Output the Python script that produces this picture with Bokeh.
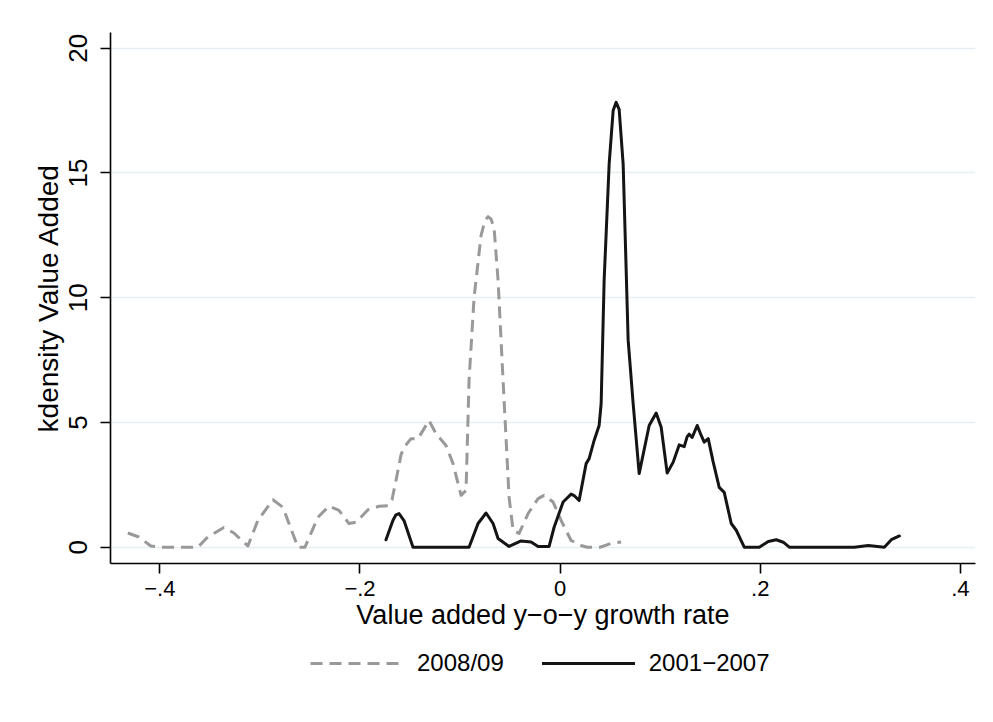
from bokeh.plotting import figure
from bokeh.models import Range1d, FixedTicker, Legend, LegendItem
from bokeh.layouts import column
from bokeh.embed import file_html
from bokeh.resources import INLINE

# ---- data ----
crisis_x = [-0.432, -0.421, -0.409, -0.400, -0.362, -0.352, -0.336, -0.326, -0.312,
            -0.302, -0.287, -0.277, -0.262, -0.255, -0.242, -0.231, -0.221, -0.211,
            -0.204, -0.192, -0.181, -0.172, -0.168, -0.164, -0.159, -0.156, -0.149,
            -0.142, -0.131, -0.124, -0.114, -0.107, -0.099, -0.094, -0.091, -0.086,
            -0.079, -0.075, -0.072, -0.069, -0.066, -0.062, -0.057, -0.051, -0.047,
            -0.041, -0.032, -0.022, -0.016, -0.007, 0.001, 0.011, 0.021, 0.027,
            0.040, 0.051, 0.061]
crisis_y = [0.57, 0.41, 0.05, 0.0, 0.0, 0.41, 0.79, 0.57, 0.05,
            1.08, 1.90, 1.60, 0.0, 0.0, 1.20, 1.65, 1.48, 0.95,
            1.00, 1.50, 1.64, 1.66, 1.90, 2.68, 3.70, 4.00, 4.35,
            4.35, 5.08, 4.55, 4.08, 3.35, 2.08, 2.28, 6.68, 10.0,
            12.5, 13.1, 13.25, 13.15, 12.8, 10.7, 6.68, 2.0, 0.68,
            0.55, 1.35, 1.95, 2.08, 1.81, 1.07, 0.27, 0.07, 0.0,
            0.0, 0.15, 0.21]

boom_x = [-0.174, -0.167, -0.164, -0.161, -0.156, -0.147, -0.091, -0.082, -0.074,
          -0.067, -0.062, -0.051, -0.039, -0.029, -0.022, -0.011, -0.006, 0.003,
          0.011, 0.014, 0.019, 0.026, 0.029, 0.034, 0.039, 0.041, 0.044,
          0.049, 0.053, 0.056, 0.059, 0.063, 0.068, 0.073, 0.079, 0.089,
          0.096, 0.101, 0.107, 0.113, 0.119, 0.124, 0.127, 0.129, 0.132,
          0.137, 0.141, 0.144, 0.148, 0.153, 0.159, 0.164, 0.171, 0.176,
          0.184, 0.199, 0.208, 0.216, 0.223, 0.229, 0.294, 0.308, 0.324,
          0.331, 0.339]
boom_y = [0.30, 1.08, 1.30, 1.35, 1.07, 0.0, 0.0, 0.95, 1.37,
          0.95, 0.35, 0.03, 0.25, 0.21, 0.03, 0.03, 0.80, 1.81,
          2.13, 2.07, 1.87, 3.35, 3.55, 4.28, 4.88, 5.75, 10.7,
          15.35, 17.5, 17.83, 17.55, 15.35, 8.3, 5.75, 2.95, 4.88,
          5.38, 4.81, 2.97, 3.41, 4.10, 4.03, 4.43, 4.53, 4.40,
          4.88, 4.48, 4.21, 4.35, 3.41, 2.40, 2.20, 0.95, 0.68,
          0.0, 0.0, 0.23, 0.30, 0.20, 0.0, 0.0, 0.07, 0.0,
          0.30, 0.45]

x_ticks = [-0.4, -0.2, 0.0, 0.2, 0.4]
x_tick_labels = ["\u2212.4", "\u2212.2", "0", ".2", ".4"]
y_ticks = [0, 5, 10, 15, 20]
y_tick_labels = ["0", "5", "10", "15", "20"]
series_labels = ["2008/09", "2001\u22122007"]

FONT = "Liberation Sans"
CRISIS_STYLE = dict(line_color="#999999", line_width=3, line_dash="12 7", line_join="round")
BOOM_STYLE = dict(line_color="#141414", line_width=3, line_join="round", line_cap="round")

p = figure(frame_width=865, frame_height=531, output_backend="svg", toolbar_location=None,
           x_range=Range1d(-0.4493, 0.4151), y_range=Range1d(-0.653, 20.63),
           min_border_left=110, min_border_right=8, min_border_top=32,
           min_border_bottom=80)
p.outline_line_color = None
p.background_fill_color = "white"
p.border_fill_color = "white"

# grid
p.xgrid.visible = False
p.ygrid.ticker = FixedTicker(ticks=y_ticks)
p.ygrid.grid_line_color = "#e6eef1"
p.ygrid.grid_line_width = 1.7

# x axis
p.xaxis.ticker = FixedTicker(ticks=x_ticks)
p.xaxis.major_label_overrides = dict(zip(x_ticks, x_tick_labels))
p.xaxis.axis_label = "Value added y\u2212o\u2212y growth rate"
p.xaxis.axis_label_text_font = FONT
p.xaxis.axis_label_text_font_size = "27px"
p.xaxis.axis_label_text_font_style = "normal"
p.xaxis.axis_label_text_color = "black"
p.xaxis.axis_label_standoff = 1
p.xaxis.major_label_text_font = FONT
p.xaxis.major_label_text_font_size = "22px"
p.xaxis.major_label_text_color = "black"
p.xaxis.major_label_standoff = 7

# y axis
p.yaxis.ticker = FixedTicker(ticks=y_ticks)
p.yaxis.major_label_overrides = dict(zip(y_ticks, y_tick_labels))
p.yaxis.major_label_orientation = "vertical"
p.yaxis.axis_label = "kdensity Value Added"
p.yaxis.axis_label_text_font = FONT
p.yaxis.axis_label_text_font_size = "28px"
p.yaxis.axis_label_text_font_style = "normal"
p.yaxis.axis_label_text_color = "black"
p.yaxis.axis_label_standoff = 3
p.yaxis.major_label_text_font = FONT
p.yaxis.major_label_text_font_size = "26px"
p.yaxis.major_label_text_color = "black"
p.yaxis.major_label_standoff = 13

for ax in (p.xaxis, p.yaxis):
    ax.axis_line_color = "black"
    ax.axis_line_width = 1.6
    ax.major_tick_line_color = "black"
    ax.major_tick_line_width = 1.6
    ax.major_tick_out = 10
    ax.major_tick_in = 0
    ax.minor_tick_line_color = None

p.line(crisis_x, crisis_y, **CRISIS_STYLE)
p.line(boom_x, boom_y, **BOOM_STYLE)

# legend strip below the plot (same frame alignment); the series are drawn here
# too but fall outside this strip's view, so only the legend keys show.
lg = figure(frame_width=865, frame_height=63, output_backend="svg", toolbar_location=None,
            x_range=Range1d(-0.4493, 0.4151), y_range=Range1d(100, 101),
            min_border_left=110, min_border_right=8, min_border_top=0,
            min_border_bottom=0)
lg.axis.visible = False
lg.grid.visible = False
lg.outline_line_color = None
lg.border_fill_color = "white"
k1 = lg.line(crisis_x, crisis_y, **CRISIS_STYLE)
k2 = lg.line(boom_x, boom_y, **BOOM_STYLE)
legend = Legend(items=[LegendItem(label=series_labels[0], renderers=[k1]),
                       LegendItem(label=series_labels[1], renderers=[k2])],
                orientation="horizontal", location=(200, 29),
                border_line_color=None, background_fill_alpha=0,
                glyph_width=93, glyph_height=20, label_standoff=14,
                spacing=38, padding=0, margin=0,
                label_text_font=FONT, label_text_font_size="24px",
                label_text_color="black")
lg.add_layout(legend, "center")

open("out.html", "w").write(file_html(column(p, lg, spacing=0), INLINE))
